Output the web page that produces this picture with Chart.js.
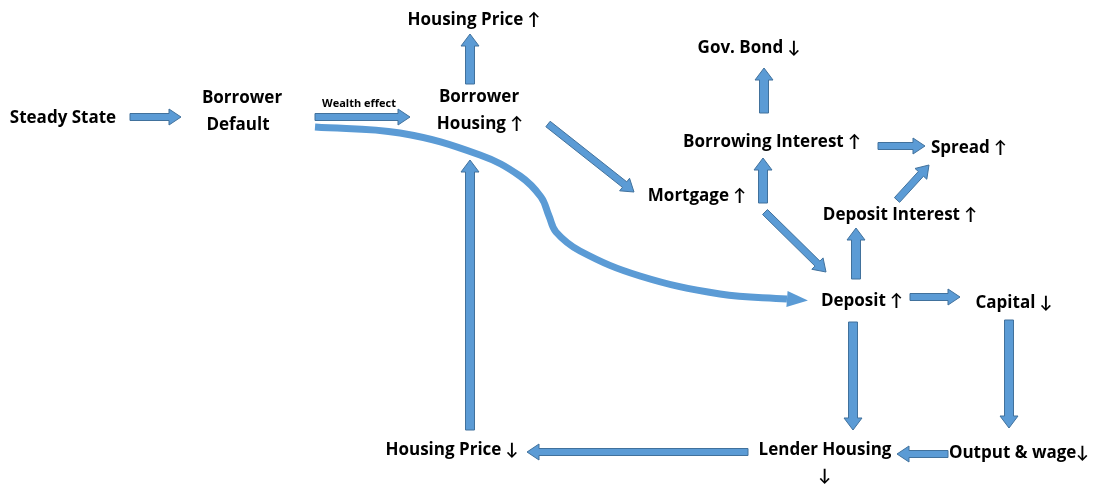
<!DOCTYPE html>
<html>
<head>
<meta charset="utf-8">
<script src="https://cdn.jsdelivr.net/npm/chart.js@4/dist/chart.umd.min.js"></script>
<style>
  body { margin: 0; background: #fff; }
  #wrap { width: 1093px; height: 485px; }
</style>
</head>
<body>
<div id="wrap"><canvas id="flow" width="1093" height="485"></canvas></div>
<script>
// node labels and their positions (diagram units)
const labels = ['Steady State', 'Borrower', 'Default', 'Borrower', 'Housing \u2191', 'Housing Price \u2191',
  'Gov. Bond \u2193', 'Borrowing Interest \u2191', 'Spread \u2191', 'Mortgage \u2191', 'Deposit Interest \u2191',
  'Deposit \u2191', 'Capital \u2193', 'Housing Price \u2193', 'Lender Housing', '\u2193', 'Output & wage\u2193'];
const labelX = [63, 242, 238, 479, 480, 474, 749, 772, 969, 697, 900, 862, 1014, 452, 825, 825, 1019];
const labelY = [118, 98, 125, 97, 124, 20, 48, 142, 148, 196, 215, 301, 303, 450, 450, 476, 453];

const smallLabel = 'Wealth effect';
const smallX = 359;
const smallY = 104;

// block arrows: start and end points
const arrowX0 = [130, 315, 470, 548, 764, 878, 763, 765, 897, 856, 910, 853, 1009, 948, 748, 470];
const arrowY0 = [117, 117, 84, 124, 113, 146, 203, 212, 200, 279, 297, 322, 320, 454, 452, 430];
const arrowX1 = [181, 410, 470, 634, 764, 925, 763, 826, 929, 856, 960, 853, 1009, 897, 527, 470];
const arrowY1 = [117, 117, 34, 192, 68, 146, 158, 272, 165, 228, 297, 430, 428, 454, 452, 160];

// wealth effect curve
const curveX = [315, 400, 480, 520, 541, 549, 556, 580, 640, 720, 787];
const curveY = [127, 133, 155, 176, 197, 216, 232, 251, 276, 294, 299];

const blue = '#5b9bd5';
const edge = '#41719c';

const arrowsPlugin = {
  id: 'arrows',
  afterDatasetsDraw(chart) {
    const c = chart.ctx;
    const sx = chart.scales.x, sy = chart.scales.y;
    c.save();
    for (let i = 0; i < arrowX0.length; i++) {
      const x0 = sx.getPixelForValue(arrowX0[i]), y0 = sy.getPixelForValue(arrowY0[i]);
      const x1 = sx.getPixelForValue(arrowX1[i]), y1 = sy.getPixelForValue(arrowY1[i]);
      const dx = x1 - x0, dy = y1 - y0;
      const len = Math.sqrt(dx * dx + dy * dy);
      const ux = dx / len, uy = dy / len;
      const nx = -uy, ny = ux;
      const vertical = Math.abs(uy) > 0.9;
      const w = vertical ? 4.5 : 3.5, hw = vertical ? 9 : 8, hl = 12;
      const bx = x1 - ux * hl, by = y1 - uy * hl;
      c.beginPath();
      c.moveTo(x0 + nx * w, y0 + ny * w);
      c.lineTo(bx + nx * w, by + ny * w);
      c.lineTo(bx + nx * hw, by + ny * hw);
      c.lineTo(x1, y1);
      c.lineTo(bx - nx * hw, by - ny * hw);
      c.lineTo(bx - nx * w, by - ny * w);
      c.lineTo(x0 - nx * w, y0 - ny * w);
      c.closePath();
      c.fillStyle = blue;
      c.fill();
      c.lineWidth = 1;
      c.strokeStyle = edge;
      c.stroke();
    }
    // head of the curve
    const n = curveX.length;
    const ex = sx.getPixelForValue(curveX[n - 1]), ey = sy.getPixelForValue(curveY[n - 1]);
    const px = sx.getPixelForValue(curveX[n - 2]), py = sy.getPixelForValue(curveY[n - 2]);
    const dx = ex - px, dy = ey - py;
    const len = Math.sqrt(dx * dx + dy * dy);
    const ux = dx / len, uy = dy / len;
    const tipx = ex + ux * 21, tipy = ey + uy * 21;
    c.beginPath();
    c.moveTo(tipx, tipy);
    c.lineTo(ex - uy * 8, ey + ux * 8);
    c.lineTo(ex + uy * 8, ey - ux * 8);
    c.closePath();
    c.fillStyle = blue;
    c.fill();

    // text
    c.fillStyle = '#000';
    c.textAlign = 'center';
    c.textBaseline = 'middle';
    c.font = 'bold 17px "Open Sans", Lato, sans-serif';
    for (let i = 0; i < labels.length; i++) {
      c.fillText(labels[i], sx.getPixelForValue(labelX[i]), sy.getPixelForValue(labelY[i]));
    }
    c.font = 'bold 11px "Open Sans", Lato, sans-serif';
    c.fillText(smallLabel, sx.getPixelForValue(smallX), sy.getPixelForValue(smallY));
    c.restore();
  }
};

const curvePoints = curveX.map((x, i) => ({ x: x, y: curveY[i] }));

new Chart(document.getElementById('flow').getContext('2d'), {
  type: 'scatter',
  data: {
    datasets: [{
      label: 'Wealth effect',
      data: curvePoints,
      showLine: true,
      borderColor: blue,
      borderWidth: 7,
      pointRadius: 0,
      tension: 0.4,
      fill: false
    }]
  },
  options: {
    responsive: false,
    animation: false,
    layout: { padding: 0 },
    plugins: {
      legend: { display: false },
      tooltip: { enabled: false }
    },
    scales: {
      x: { type: 'linear', min: 0, max: 1093, display: false },
      y: { type: 'linear', min: 0, max: 485, reverse: true, display: false }
    }
  },
  plugins: [arrowsPlugin]
});
</script>
</body>
</html>
